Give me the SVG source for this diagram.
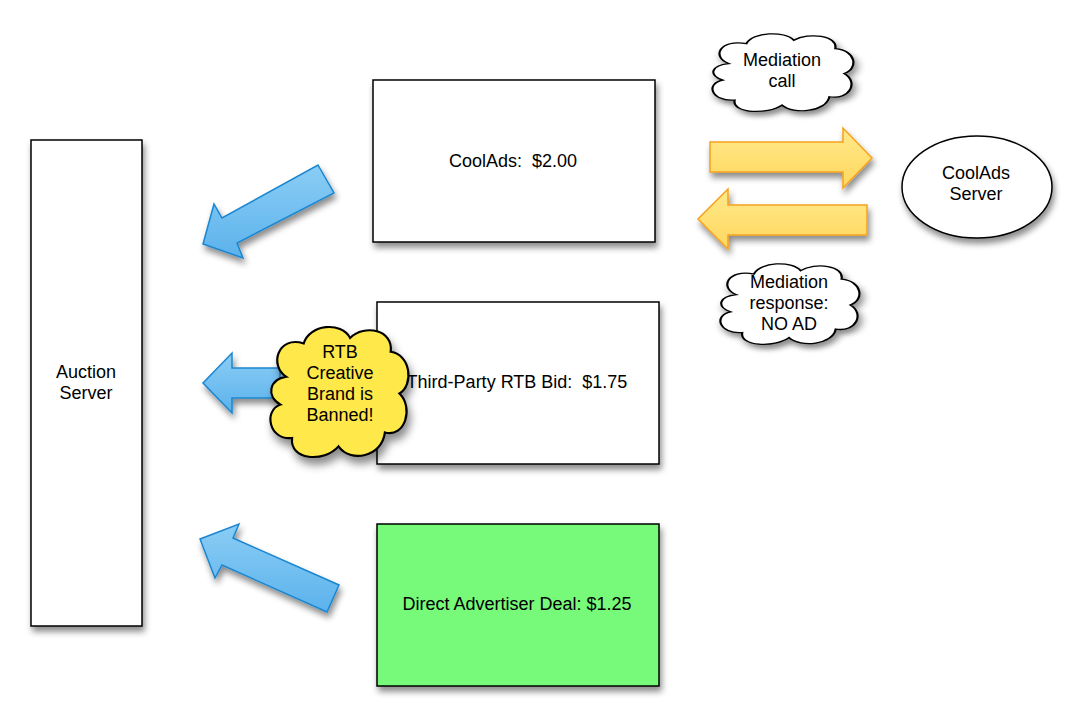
<svg xmlns="http://www.w3.org/2000/svg" width="1083" height="721" viewBox="0 0 1083 721">
<defs>
<filter id="sh" x="-20%" y="-20%" width="140%" height="140%">
<feDropShadow dx="2" dy="5" stdDeviation="3" flood-color="#000" flood-opacity="0.45"/>
</filter>
<linearGradient id="blue" x1="0" y1="0" x2="0" y2="1">
<stop offset="0" stop-color="#8acdf5"/>
<stop offset="1" stop-color="#5cb2ec"/>
</linearGradient>
<linearGradient id="orange" x1="0" y1="0" x2="0" y2="1">
<stop offset="0" stop-color="#ffe98a"/>
<stop offset="1" stop-color="#ffd75e"/>
</linearGradient>
<path id="cloud" d="M 14,38 C 2,30 8,8 26,14 C 30,0 52,-2 58,10 C 68,0 88,4 86,20 C 100,22 102,44 92,50 C 102,60 96,82 82,78 C 80,96 58,100 50,88 C 40,100 16,98 18,82 C 2,84 -2,62 10,58 C 0,52 2,40 14,38 Z"/>
</defs>
<style>
.box{fill:#fff;stroke:#000;stroke-width:1.5}
.t{font-family:"Liberation Sans",Arial,sans-serif;font-size:18px;fill:#000;text-anchor:middle}
.barrow{fill:url(#blue);stroke:#1a86d0;stroke-width:1.5;stroke-linejoin:miter}
.oarrow{fill:url(#orange);stroke:#f5a21e;stroke-width:1.5}
.cl{stroke:#000;stroke-width:1.5}
</style>
<rect width="1083" height="721" fill="#fff"/>

<g id="auction-server">
<rect class="box" x="31" y="140" width="111" height="486" filter="url(#sh)"/>
<text class="t" x="86" y="378">Auction</text>
<text class="t" x="86" y="399">Server</text>
</g>

<g id="coolads">
<rect class="box" x="373" y="80" width="282" height="162" filter="url(#sh)"/>
<text class="t" x="513" y="167" xml:space="preserve">CoolAds:  $2.00</text>
</g>

<g id="third-party">
<rect class="box" x="377" y="302" width="282" height="162" filter="url(#sh)"/>
<text class="t" x="517" y="388" xml:space="preserve">Third-Party RTB Bid:  $1.75</text>
</g>

<g id="direct">
<rect class="box" x="377" y="524" width="282" height="162" style="fill:#77fa7a" filter="url(#sh)"/>
<text class="t" x="517" y="610">Direct Advertiser Deal: $1.25</text>
</g>

<g id="coolads-server">
<ellipse cx="977" cy="187" rx="75" ry="51" fill="#fff" stroke="#000" stroke-width="1.5" filter="url(#sh)"/>
<text class="t" x="976" y="179">CoolAds</text>
<text class="t" x="976" y="200">Server</text>
</g>

<g id="connectors">
<polygon class="barrow" filter="url(#sh)" points="318,165 334,193 237,243 243,258 203,244 214,204 222,218"/>
<polygon class="barrow" filter="url(#sh)" points="280,368 232,368 232,353 203,383 232,413 232,398 280,398"/>
<polygon class="barrow" filter="url(#sh)" points="339,585 327,612 222,565 215,578 200,539 239,524 233,538"/>
<polygon class="oarrow" filter="url(#sh)" points="710,142 843,142 843,128 872,158 843,188 843,172 710,172"/>
<polygon class="oarrow" filter="url(#sh)" points="867,205 728,205 728,189 698,219 728,249 728,235 867,235"/>
</g>

<g id="mediation-call">
<use href="#cloud" class="cl" fill="#fff" vector-effect="non-scaling-stroke" transform="translate(708,32) scale(1.48,0.83)" filter="url(#sh)"/>
<text class="t" x="782" y="66">Mediation</text>
<text class="t" x="782" y="87">call</text>
</g>

<g id="mediation-response">
<use href="#cloud" class="cl" fill="#fff" vector-effect="non-scaling-stroke" transform="translate(716,262) scale(1.46,0.86)" filter="url(#sh)"/>
<text class="t" x="789" y="288">Mediation</text>
<text class="t" x="789" y="309">response:</text>
<text class="t" x="789" y="330">NO AD</text>
</g>

<g id="rtb-banned">
<use href="#cloud" class="cl" fill="#ffe84a" vector-effect="non-scaling-stroke" transform="translate(266,324) scale(1.45,1.39)" filter="url(#sh)"/>
<text class="t" x="340" y="358">RTB</text>
<text class="t" x="340" y="379">Creative</text>
<text class="t" x="340" y="400">Brand is</text>
<text class="t" x="340" y="421">Banned!</text>
</g>
</svg>
